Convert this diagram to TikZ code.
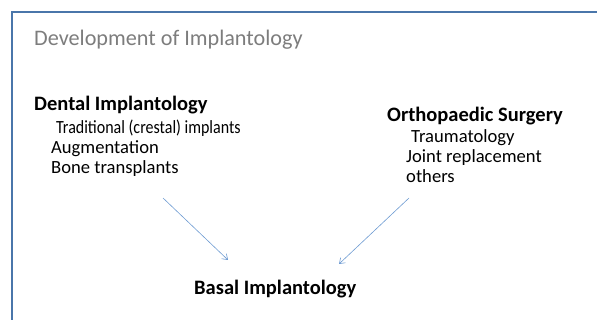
\documentclass[tikz,border=0pt]{standalone}
\usepackage{fontspec}
\setmainfont{Carlito}
\usetikzlibrary{arrows.meta}
\definecolor{framecol}{RGB}{74,118,170}
\definecolor{arrowcol}{RGB}{110,155,210}
\definecolor{titlecol}{RGB}{125,125,125}
\begin{document}
\begin{tikzpicture}[
    x=1pt, y=-1pt,
    title/.style={anchor=base west, inner sep=0pt, text=titlecol, font=\fontsize{22.2}{26}\selectfont},
    heading/.style={anchor=base west, inner sep=0pt, font=\fontsize{20.5}{24}\selectfont\bfseries},
    item/.style={anchor=base west, inner sep=0pt, font=\fontsize{18.6}{22}\selectfont},
    link/.style={-{Straight Barb[length=5pt, width=7pt]}, color=arrowcol, line width=0.6pt}
]
    \useasboundingbox (0,0) rectangle (597,320);
    \draw[framecol, line width=2pt] (11.5,320) |- (597,12.5);

    \node[title] (devtitle) at (34,45.5) {Development of Implantology};

    \node[heading] (dental) at (34,111) {Dental Implantology};
    \node[item] (d1) at (56,134) {\scalebox{0.86}[1]{Traditional (crestal) implants}};
    \node[item] (d2) at (51,154) {Augmentation};
    \node[item] (d3) at (51,174) {Bone transplants};

    \node[heading] (ortho) at (387,122) {Orthopaedic Surgery};
    \node[item] (o1) at (411,143) {Traumatology};
    \node[item] (o2) at (406,163) {Joint replacement};
    \node[item] (o3) at (406,183) {others};

    \node[heading] (basal) at (194,295) {Basal Implantology};

    \coordinate (dstart) at (163,198);
    \coordinate (dend) at (228,260);
    \coordinate (ostart) at (409,198);
    \coordinate (oend) at (339,264);

    \draw[link] (dstart) -- (dend);
    \draw[link] (ostart) -- (oend);
\end{tikzpicture}
\end{document}
